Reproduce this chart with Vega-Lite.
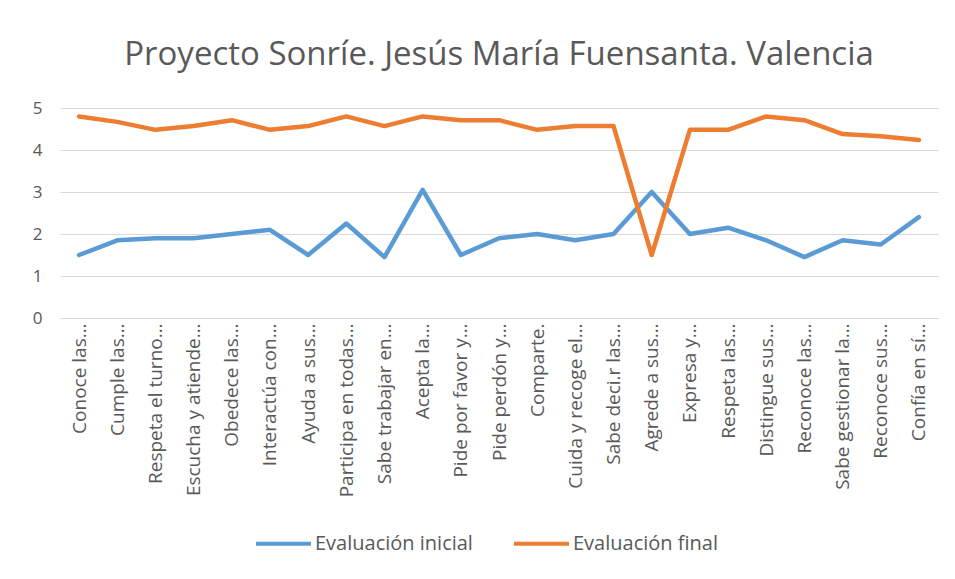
{
  "$schema": "https://vega.github.io/schema/vega-lite/v6.json",
  "autosize": "none",
  "width": 878,
  "height": 210,
  "padding": {"left": 60, "top": 108, "right": 17, "bottom": 261},
  "background": "white",
  "title": {
    "text": "Proyecto Sonríe. Jesús María Fuensanta. Valencia",
    "anchor": "middle",
    "frame": "group",
    "fontSize": 33,
    "font": "Open Sans",
    "fontWeight": "normal",
    "color": "#595959",
    "offset": 27
  },
  "config": {
    "view": {"stroke": null},
    "font": "Open Sans"
  },
  "data": {
    "values": [
      {"c": "Conoce las…", "s": "Evaluación inicial", "v": 1.5},
      {"c": "Cumple las…", "s": "Evaluación inicial", "v": 1.85},
      {"c": "Respeta el turno…", "s": "Evaluación inicial", "v": 1.9},
      {"c": "Escucha y atiende…", "s": "Evaluación inicial", "v": 1.9},
      {"c": "Obedece las…", "s": "Evaluación inicial", "v": 2.0},
      {"c": "Interactúa con…", "s": "Evaluación inicial", "v": 2.1},
      {"c": "Ayuda a sus…", "s": "Evaluación inicial", "v": 1.5},
      {"c": "Participa en todas…", "s": "Evaluación inicial", "v": 2.25},
      {"c": "Sabe trabajar en…", "s": "Evaluación inicial", "v": 1.45},
      {"c": "Acepta la…", "s": "Evaluación inicial", "v": 3.05},
      {"c": "Pide por favor y…", "s": "Evaluación inicial", "v": 1.5},
      {"c": "Pide perdón y…", "s": "Evaluación inicial", "v": 1.9},
      {"c": "Comparte.", "s": "Evaluación inicial", "v": 2.0},
      {"c": "Cuida y recoge el…", "s": "Evaluación inicial", "v": 1.85},
      {"c": "Sabe deci.r las…", "s": "Evaluación inicial", "v": 2.0},
      {"c": "Agrede a sus…", "s": "Evaluación inicial", "v": 3.0},
      {"c": "Expresa y…", "s": "Evaluación inicial", "v": 2.0},
      {"c": "Respeta las…", "s": "Evaluación inicial", "v": 2.15},
      {"c": "Distingue sus…", "s": "Evaluación inicial", "v": 1.85},
      {"c": "Reconoce las…", "s": "Evaluación inicial", "v": 1.45},
      {"c": "Sabe gestionar la…", "s": "Evaluación inicial", "v": 1.85},
      {"c": "Reconoce sus…", "s": "Evaluación inicial", "v": 1.75},
      {"c": "Confía en sí…", "s": "Evaluación inicial", "v": 2.4},
      {"c": "Conoce las…", "s": "Evaluación final", "v": 4.8},
      {"c": "Cumple las…", "s": "Evaluación final", "v": 4.67},
      {"c": "Respeta el turno…", "s": "Evaluación final", "v": 4.48},
      {"c": "Escucha y atiende…", "s": "Evaluación final", "v": 4.57},
      {"c": "Obedece las…", "s": "Evaluación final", "v": 4.71},
      {"c": "Interactúa con…", "s": "Evaluación final", "v": 4.48},
      {"c": "Ayuda a sus…", "s": "Evaluación final", "v": 4.57},
      {"c": "Participa en todas…", "s": "Evaluación final", "v": 4.8},
      {"c": "Sabe trabajar en…", "s": "Evaluación final", "v": 4.57},
      {"c": "Acepta la…", "s": "Evaluación final", "v": 4.8},
      {"c": "Pide por favor y…", "s": "Evaluación final", "v": 4.71},
      {"c": "Pide perdón y…", "s": "Evaluación final", "v": 4.71},
      {"c": "Comparte.", "s": "Evaluación final", "v": 4.48},
      {"c": "Cuida y recoge el…", "s": "Evaluación final", "v": 4.57},
      {"c": "Sabe deci.r las…", "s": "Evaluación final", "v": 4.57},
      {"c": "Agrede a sus…", "s": "Evaluación final", "v": 1.5},
      {"c": "Expresa y…", "s": "Evaluación final", "v": 4.48},
      {"c": "Respeta las…", "s": "Evaluación final", "v": 4.48},
      {"c": "Distingue sus…", "s": "Evaluación final", "v": 4.8},
      {"c": "Reconoce las…", "s": "Evaluación final", "v": 4.71},
      {"c": "Sabe gestionar la…", "s": "Evaluación final", "v": 4.38},
      {"c": "Reconoce sus…", "s": "Evaluación final", "v": 4.33},
      {"c": "Confía en sí…", "s": "Evaluación final", "v": 4.24}
    ]
  },
  "mark": {"type": "line", "strokeWidth": 4.5, "strokeCap": "round", "strokeJoin": "round"},
  "encoding": {
    "x": {
      "field": "c",
      "type": "nominal",
      "sort": null,
      "scale": {"type": "point", "padding": 0.5},
      "axis": {
        "title": null,
        "labelAngle": -90,
        "labelFontSize": 19,
        "labelColor": "#595959",
        "labelPadding": 5,
        "ticks": false,
        "domainColor": "#d9d9d9",
        "labelLimit": 250
      }
    },
    "y": {
      "field": "v",
      "type": "quantitative",
      "scale": {"domain": [0, 5], "nice": false},
      "axis": {
        "title": null,
        "values": [0, 1, 2, 3, 4, 5],
        "domain": false,
        "ticks": false,
        "gridColor": "#d9d9d9",
        "labelFontSize": 17,
        "labelColor": "#595959",
        "labelPadding": 18
      }
    },
    "color": {
      "field": "s",
      "type": "nominal",
      "scale": {"domain": ["Evaluación inicial", "Evaluación final"], "range": ["#5B9BD5", "#ED7D31"]},
      "legend": {
        "title": null,
        "orient": "none",
        "direction": "horizontal",
        "legendX": 194,
        "legendY": 406,
        "symbolType": "stroke",
        "symbolSize": 3025,
        "symbolStrokeWidth": 4,
        "labelFontSize": 20,
        "labelLimit": 400,
        "labelColor": "#595959",
        "labelOffset": 2,
        "columnPadding": 33
      }
    }
  }
}
